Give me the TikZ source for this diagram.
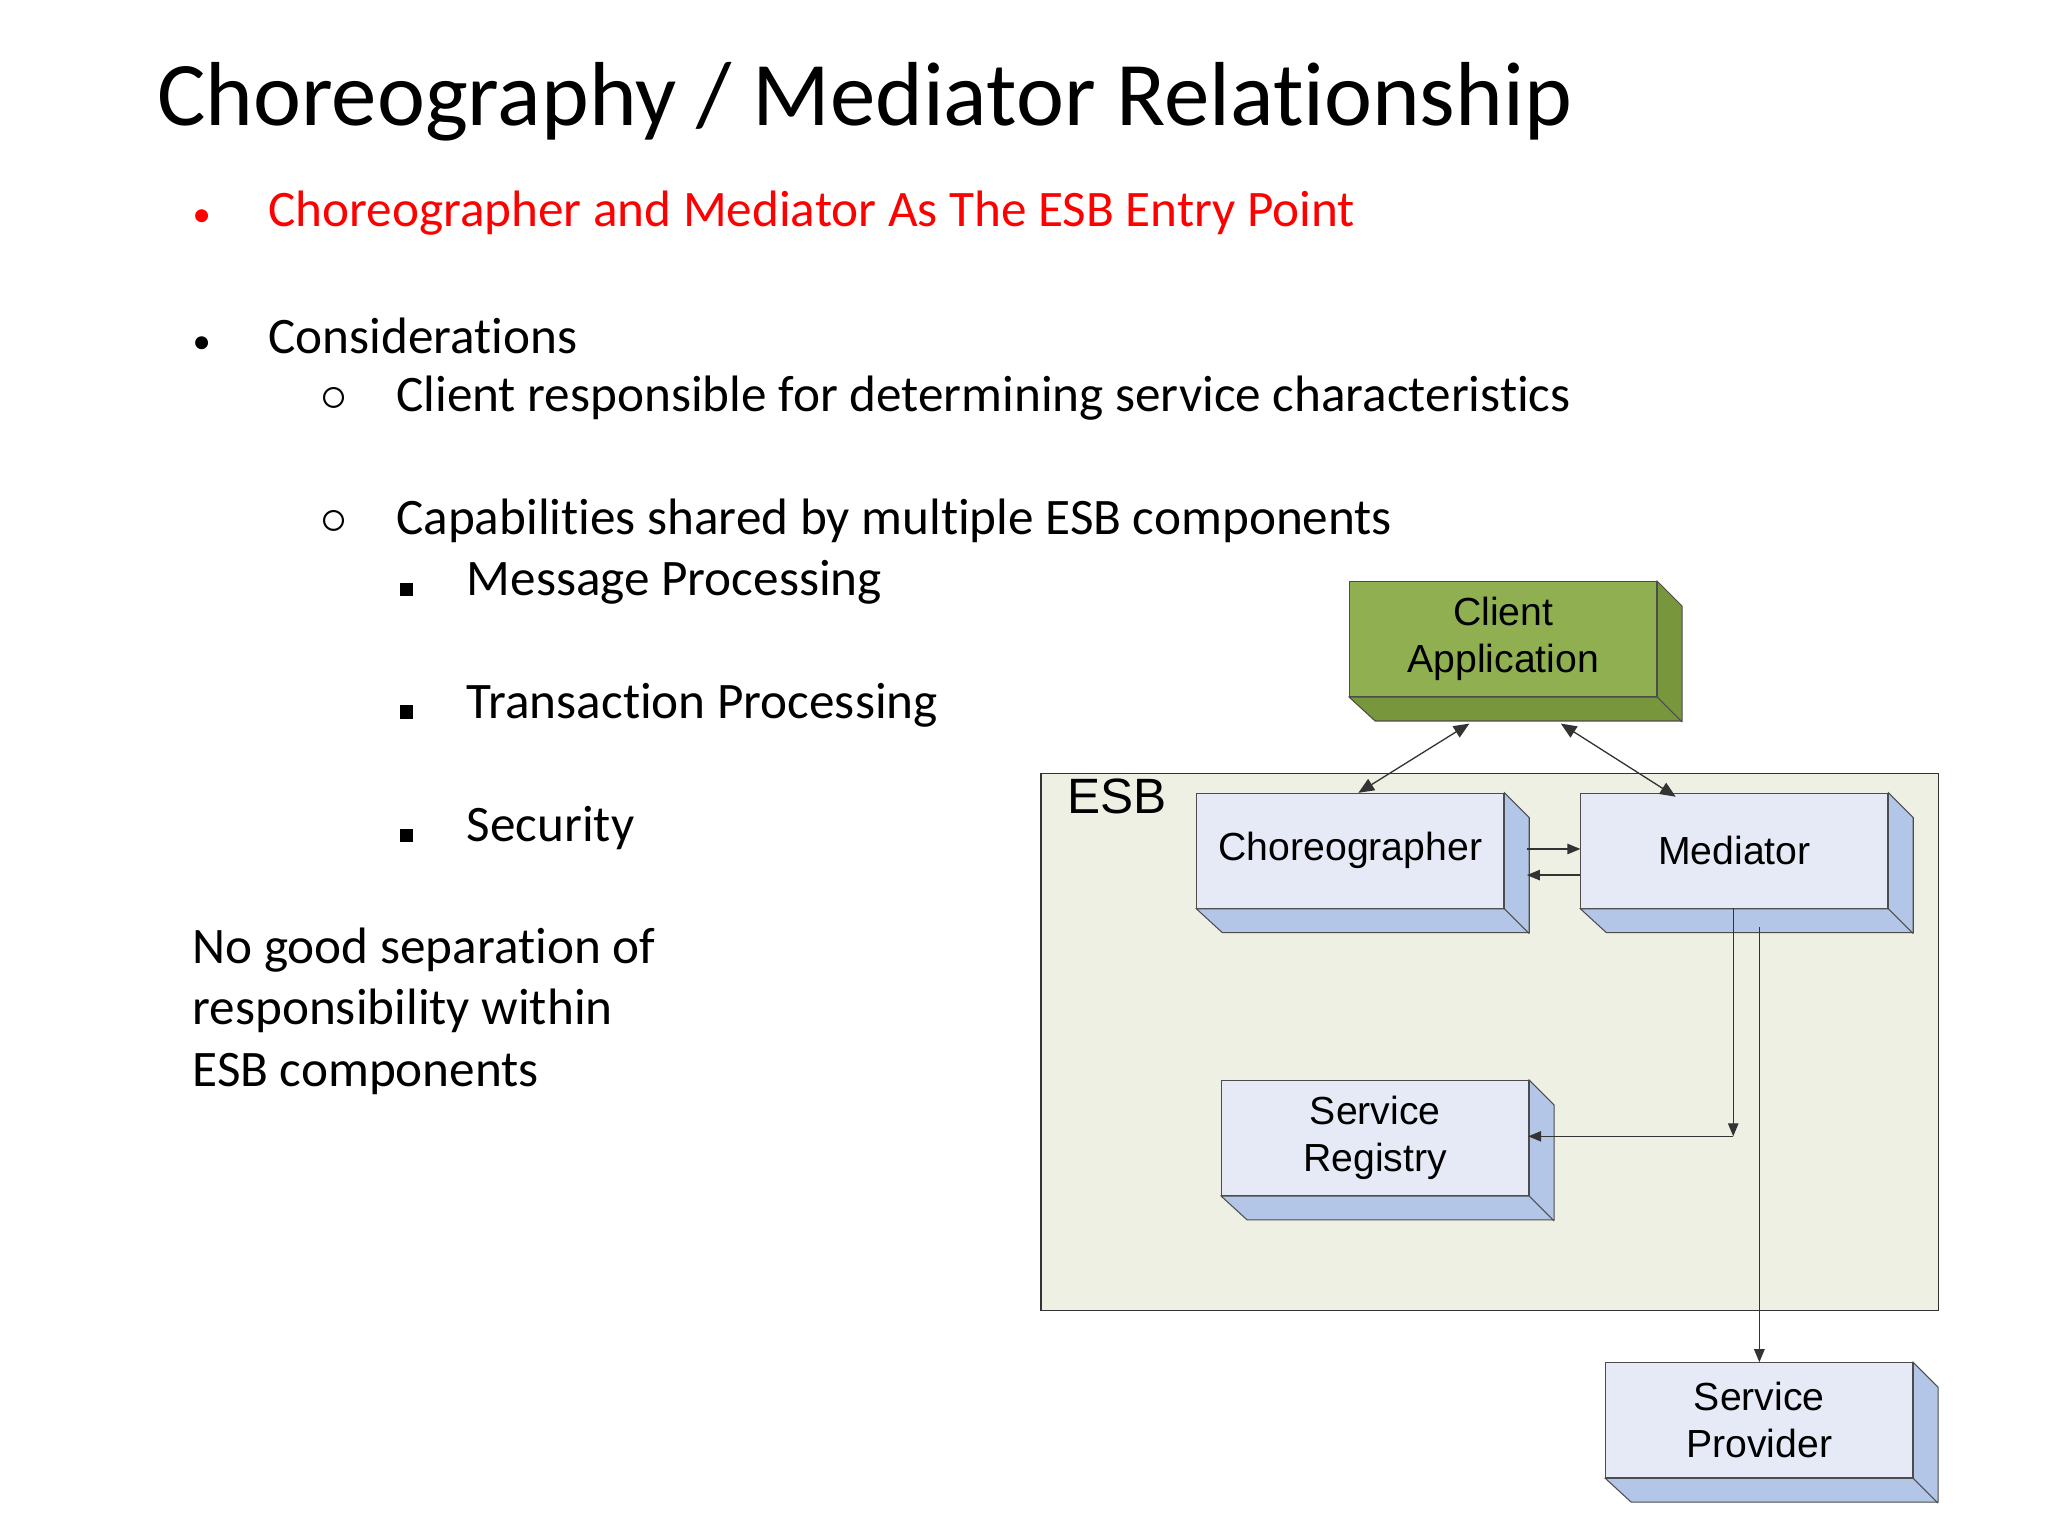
\documentclass[tikz,border=0pt]{standalone}
\usepackage{fontspec}
\setmainfont[Ligatures={NoCommon}]{Carlito}
\newfontfamily\arial{Liberation Sans}
\usetikzlibrary{arrows.meta}
\definecolor{cfront}{RGB}{143,175,80}
\definecolor{cside}{RGB}{120,150,60}
\definecolor{bfront}{RGB}{230,234,246}
\definecolor{bside}{RGB}{180,198,231}
\definecolor{esbfill}{RGB}{237,240,226}
\begin{document}
\begin{tikzpicture}[x=0.5pt,y=-0.5pt,
  face/.style={draw=black!70,fill=#1,minimum width=117.5pt,minimum height=44pt,inner sep=0pt,align=center,font=\arial\fontsize{15}{18}\selectfont,anchor=north west},
  lnk/.style={draw=black!80,line width=0.5pt},
  tip/.style={-{Triangle[length=5pt,width=4pt]}},
  txt/.style={anchor=west,inner sep=0pt,font=\fontsize{19.6}{23}\selectfont}]
\useasboundingbox (0,0) rectangle (1568,1176);
\fill[white] (0,0) rectangle (1568,1176);
\newcommand{\depthbox}[2]{%
 \fill[#2,draw=black!70] (#1.north east) -- ++(19,19) -- ++(0,88) -- ++(-235,0) -- (#1.south west) -- (#1.south east) -- cycle;
 \draw[black!70] (#1.south east) -- ++(19,19);}
\node[anchor=west,inner sep=0pt,font=\fontsize{34.8}{38}\selectfont] (title) at (120,78) {Choreography / Mediator Relationship};
\node[txt,text=red] (b1) at (147,163) {\makebox[29pt][l]{\fontsize{14}{14}\selectfont•}Choreographer and Mediator As The ESB Entry Point};
\node[txt] (b2) at (147,257) {\makebox[29pt][l]{\fontsize{14}{14}\selectfont•}Considerations};
\node[txt] (c1) at (245,305) {\makebox[29pt][l]{$\circ$}Client responsible for determining service characteristics};
\node[txt] (c2) at (245,399) {\makebox[29pt][l]{$\circ$}Capabilities shared by multiple ESB components};
\node[txt] (d1) at (306,446) {\makebox[25.5pt][l]{\rule{5pt}{5pt}}Message Processing};
\node[txt] (d2) at (306,540) {\makebox[25.5pt][l]{\rule{5pt}{5pt}}Transaction Processing};
\node[txt] (d3) at (306,634) {\makebox[25.5pt][l]{\rule{5pt}{5pt}}Security};
\node[anchor=north west,inner sep=0pt,align=left,font=\fontsize{19.6}{23.5}\selectfont] (note) at (147,710) {No good separation of\\responsibility within\\ESB components};
% ESB
\draw[black!80,fill=esbfill] (797,592) rectangle (1484,1003);
\node[anchor=north west,inner sep=0pt,font=\arial\fontsize{19}{20}\selectfont] (esb) at (817,596) {ESB};
% boxes
\node[face=cfront] (client) at (1033,445) {Client\\Application};
\depthbox{client}{cside}
\node[face=bfront] (chor) at (916,607) {Choreographer};
\depthbox{chor}{bside}
\node[face=bfront] (med) at (1210,607) {Mediator};
\depthbox{med}{bside}
\node[face=bfront] (reg) at (935,827) {Service\\Registry};
\depthbox{reg}{bside}
\node[face=bfront] (prov) at (1229,1043) {Service\\Provider};
\depthbox{prov}{bside}
% connectors
\coordinate (ca) at (1125,554); \coordinate (cb) at (1195,554);
\coordinate (ch) at (1040,607); \coordinate (mh) at (1283,610);
\draw[lnk,{Triangle[length=6pt,width=5pt]}-{Triangle[length=6pt,width=5pt]}] (ch) -- (ca);
\draw[lnk,{Triangle[length=6pt,width=5pt]}-{Triangle[length=6pt,width=5pt]}] (cb) -- (mh);
\draw[lnk,tip] (1169,650) -- (med.west |- 0,650);
\draw[lnk,tip] (med.west |- 0,670) -- (1169,670);
\coordinate (m1) at (1327,695); \coordinate (m2) at (1327,870);
\draw[lnk,tip] (m1) -- (m2);
\draw[lnk,tip] (m2) -- (1170,870);
\coordinate (p1) at (1347,710);
\draw[lnk,tip] (p1) -- (prov.north -| p1);
\end{tikzpicture}
\end{document}
